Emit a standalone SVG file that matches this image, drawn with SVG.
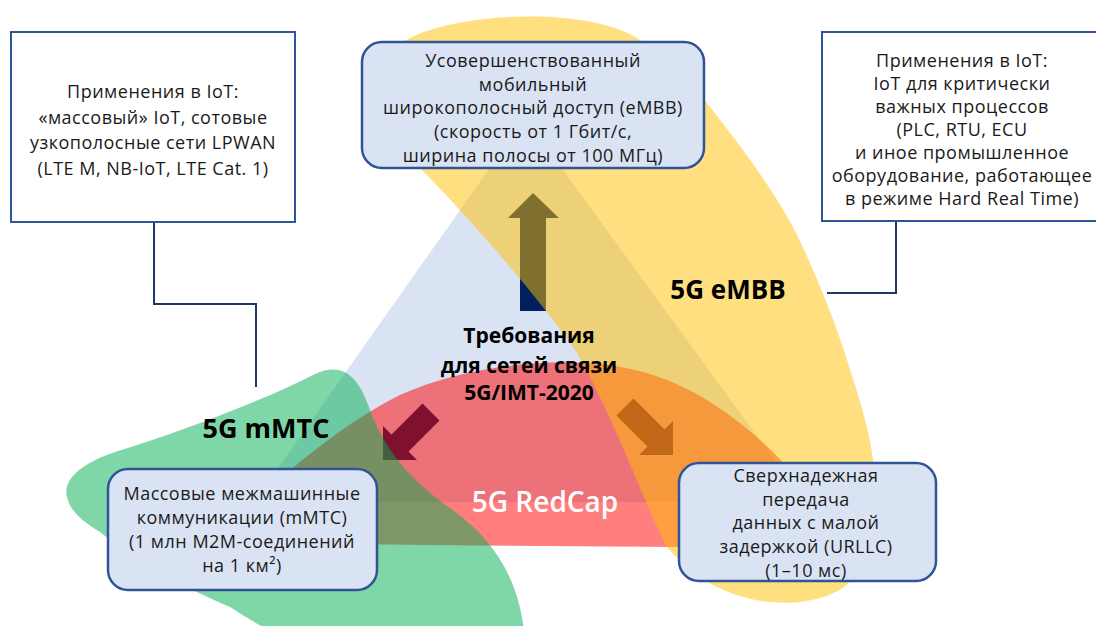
<svg xmlns="http://www.w3.org/2000/svg" width="1096" height="626" viewBox="0 0 1096 626">
<style>
.t{font-family:"Open Sans","Liberation Sans",sans-serif;font-size:18px;letter-spacing:0.5px;fill:#1a1a1a;text-anchor:middle}
.lb{font-family:"Open Sans","Liberation Sans",sans-serif;font-weight:700;fill:#000;text-anchor:middle}
.rb{fill:#DAE3F3;stroke:#2F5597;stroke-width:2.5}
.ib{fill:#fff;stroke:#2F5597;stroke-width:2}
.cn{fill:none;stroke:#1F3864;stroke-width:2}
.arr{fill:#002060}
.ov{fill-opacity:0.5}
</style>
<rect width="1096" height="626" fill="#fff"/>
<g id="triangle"><polygon points="525,118 254,502 805,502" fill="#DAE3F3"/></g>
<g id="arrows">
<polygon class="arr" points="533,193 559,218 546,218 546,311 520,311 520,218 508,218"/>
<polygon class="arr" points="383,460 383,426 391.5,434.5 422.5,403.5 439.5,420.5 408.5,451.5 417,460"/>
<polygon class="arr" points="673,455 673,421 664.5,429.5 633.5,398.5 616.5,415.5 647.5,446.5 639,455"/>
</g>
<g id="zone-redcap"><path class="ov" fill="#FF0000" d="M250,505 C290,470 340,425 400,395 C460,368 540,358 600,364 C660,370 710,395 760,440 C800,475 815,505 800,525 C780,545 730,548 680,547 L420,545 C330,545 250,540 240,525 C235,515 240,510 250,505 Z"/></g>
<g id="zone-mmtc"><path class="ov" fill="#00B050" d="M67,497 C62,478 85,462 115,452 C180,432 260,402 315,374 C345,360 360,380 370,410 C385,450 410,480 450,508 C495,540 520,580 525,640 L290,640 C270,632 250,620 230,607 C190,590 140,565 100,532 C80,520 70,510 67,497 Z"/></g>
<g id="zone-embb"><path class="ov" fill="#FFC000" d="M403,42 C450,12 590,5 640,40 C665,58 690,82 707,103 C740,145 770,185 793,227 C810,260 835,320 847,360 C860,400 873,440 875,480 C878,530 870,570 840,590 C815,603 790,604 770,602 C730,598 695,580 667,547 C645,505 615,420 577,353 C555,320 495,245 422,170 C405,140 392,70 403,42 Z"/></g>
<g id="zone-labels">
<text class="lb" x="728" y="299" font-size="26">5G eMBB</text>
<text class="lb" x="266" y="438" font-size="27">5G mMTC</text>
<text class="lb" x="545" y="512" font-size="28" style="fill:#fff;font-weight:600">5G RedCap</text>
</g>
<g id="center">
<text class="lb" x="529" y="343" font-size="21">Требования</text>
<text class="lb" x="529" y="373" font-size="21">для сетей связи</text>
<text class="lb" x="529" y="400" font-size="21">5G/IMT-2020</text>
</g>
<g id="connectors">
<path class="cn" d="M154,222 V304 H256 V387"/>
<path class="cn" d="M896,221 V293 H827"/>
</g>
<g id="embb-box">
<rect class="rb" x="362" y="42" width="342" height="126" rx="20"/>
<text class="t" x="533" y="67">Усовершенствованный</text>
<text class="t" x="533" y="90.5">мобильный</text>
<text class="t" x="533" y="114">широкополосный доступ (eMBB)</text>
<text class="t" x="533" y="138">(скорость от 1 Гбит/с,</text>
<text class="t" x="533" y="162">ширина полосы от 100 МГц)</text>
</g>
<g id="mmtc-box">
<rect class="rb" x="108" y="469" width="269" height="121" rx="20"/>
<text class="t" x="242" y="500">Массовые межмашинные</text>
<text class="t" x="242" y="524">коммуникации (mMTC)</text>
<text class="t" x="242" y="548">(1 млн M2M-соединений</text>
<text class="t" x="242" y="572">на 1 км²)</text>
</g>
<g id="urllc-box">
<rect class="rb" x="679" y="463" width="257" height="118" rx="20"/>
<text class="t" x="806" y="482">Сверхнадежная</text>
<text class="t" x="806" y="505.5">передача</text>
<text class="t" x="806" y="529">данных с малой</text>
<text class="t" x="806" y="553">задержкой (URLLC)</text>
<text class="t" x="806" y="577">(1–10 мс)</text>
</g>
<g id="iot-mass-box">
<rect class="ib" x="11" y="32" width="284" height="190"/>
<text class="t" x="153" y="98">Применения в IoT:</text>
<text class="t" x="153" y="124">«массовый» IoT, сотовые</text>
<text class="t" x="153" y="149">узкополосные сети LPWAN</text>
<text class="t" x="153" y="175">(LTE M, NB-IoT, LTE Cat. 1)</text>
</g>
<g id="iot-critical-box">
<rect class="ib" x="822" y="32" width="290" height="189"/>
<text class="t" x="962" y="67">Применения в IoT:</text>
<text class="t" x="962" y="90">IoT для критически</text>
<text class="t" x="962" y="113">важных процессов</text>
<text class="t" x="962" y="136">(PLC, RTU, ECU</text>
<text class="t" x="962" y="159">и иное промышленное</text>
<text class="t" x="962" y="182">оборудование, работающее</text>
<text class="t" x="962" y="205">в режиме Hard Real Time)</text>
</g>
</svg>
